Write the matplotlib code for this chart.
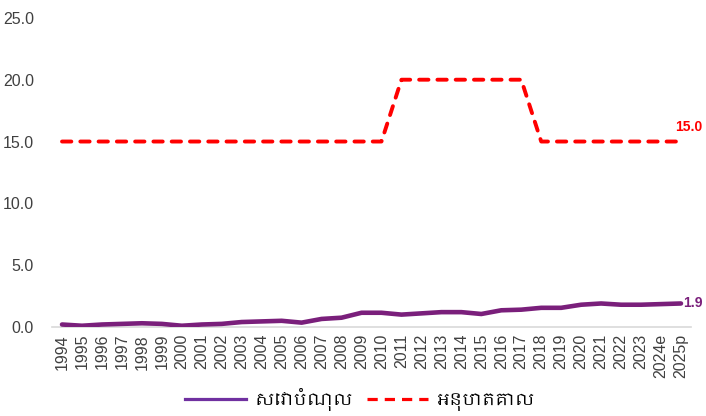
import matplotlib
matplotlib.use("Agg")
import matplotlib.pyplot as plt
from matplotlib import font_manager
from matplotlib.lines import Line2D

years = ["1994", "1995", "1996", "1997", "1998", "1999", "2000", "2001",
         "2002", "2003", "2004", "2005", "2006", "2007", "2008", "2009",
         "2010", "2011", "2012", "2013", "2014", "2015", "2016", "2017",
         "2018", "2019", "2020", "2021", "2022", "2023", "2024e", "2025p"]
debt_service = [0.2, 0.1, 0.2, 0.25, 0.3, 0.25, 0.1, 0.2,
                0.25, 0.4, 0.45, 0.5, 0.35, 0.65, 0.75, 1.15,
                1.15, 1.0, 1.1, 1.2, 1.2, 1.05, 1.35, 1.4,
                1.55, 1.55, 1.8, 1.9, 1.8, 1.8, 1.85, 1.9]
threshold = [15] * 17 + [20] * 7 + [15] * 8
series_names = ["សេវាបំណុល", "អនុបាតគោល"]

# look for any font with khmer glyphs
khmer = sorted({f.name for f in font_manager.fontManager.ttflist if "Khmer" in f.name})
legend_family = khmer + ["DejaVu Sans"]

purple = "#7a1f7b"
red = "#ff0000"
grey = "#404040"

fig = plt.figure(figsize=(7.06, 4.16), dpi=100)
ax = fig.add_axes([0.0737, 0.214, 0.905, 0.743])

x = list(range(len(years)))
ax.plot(x, debt_service, color=purple, lw=3.3, solid_capstyle="round",
        solid_joinstyle="round", zorder=3)
ax.plot(x, threshold, color=red, lw=2.8, linestyle=(0, (2.4, 2.3)),
        dash_capstyle="round", zorder=3)

ax.text(x[-1] + 0.1, debt_service[-1], f"{debt_service[-1]:.1f}", color=purple,
        fontsize=10, fontweight="bold", va="center", ha="left",
        family="Liberation Sans")
ax.text(x[-1] + 0.4, threshold[-1] + 0.6, f"{threshold[-1]:.1f}", color=red,
        fontsize=10, fontweight="bold", va="bottom", ha="center",
        family="Liberation Sans")

ax.set_xlim(-0.5, len(years) - 0.5)
ax.set_ylim(0, 25)
ax.set_yticks([0, 5, 10, 15, 20, 25])
ax.set_yticklabels([f"{v:.1f}" for v in [0, 5, 10, 15, 20, 25]])
ax.set_xticks(x)
ax.set_xticklabels(years, rotation=90)
ax.tick_params(axis="both", length=0, colors=grey)
ax.tick_params(axis="y", pad=13, labelsize=11.5)
ax.tick_params(axis="x", pad=5, labelsize=11.5)
for lab in ax.get_xticklabels() + ax.get_yticklabels():
    lab.set_family("Liberation Sans")

for side in ["top", "right", "left"]:
    ax.spines[side].set_visible(False)
ax.spines["bottom"].set_color("#d9d9d9")
ax.spines["bottom"].set_linewidth(1.2)

handles = [Line2D([], [], color="#7030a0", lw=2.3),
           Line2D([], [], color=red, lw=2.3, linestyle=(0, (3.2, 2.2)))]
fig.legend(handles, series_names, loc="lower center", ncol=2,
           bbox_to_anchor=(0.51, -0.025), frameon=False, handlelength=3.5,
           columnspacing=0.8, handletextpad=0.5,
           prop={"family": legend_family, "size": 12.5})

fig.savefig("out.png", dpi=100)
